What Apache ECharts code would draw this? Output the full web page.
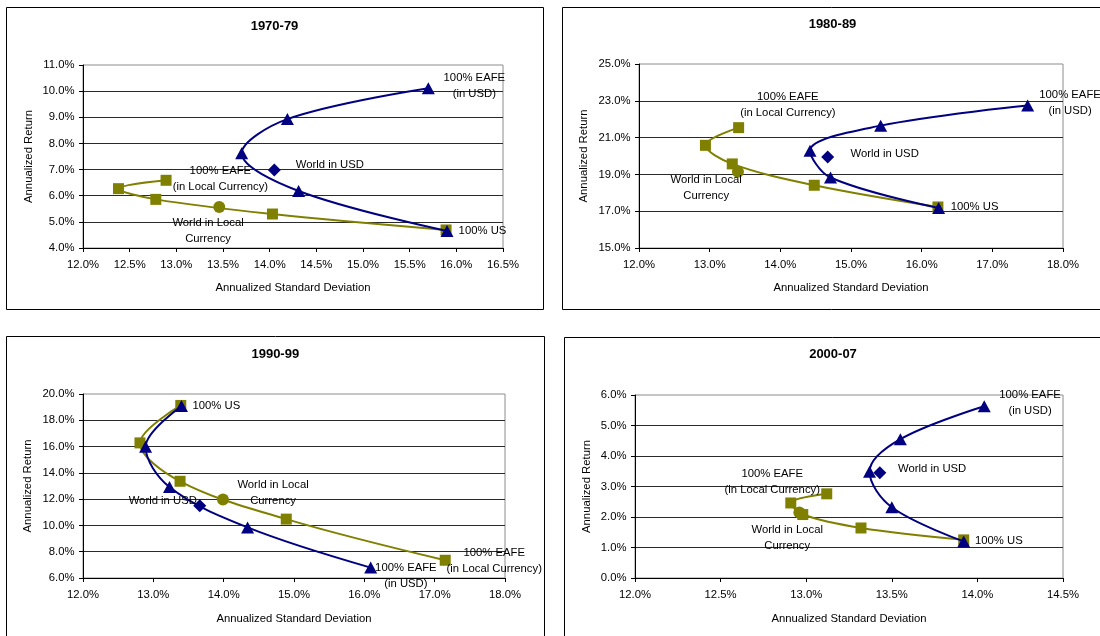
<!DOCTYPE html>
<html>
<head>
<meta charset="utf-8">
<script src="https://cdn.jsdelivr.net/npm/echarts@6/dist/echarts.min.js"></script>
<style>
  html, body { margin: 0; padding: 0; background: #fff; }
  #chart { width: 1100px; height: 636px; }
</style>
</head>
<body>
<div id="chart"></div>
<script>
// Efficient frontiers of US / EAFE mixes by decade:
// annualized standard deviation (x, %) against annualized return (y, %).
// Each frontier runs from 100% EAFE (first point) to 100% US (last point).

// 1970-79
const eafeUsd7079   = [[15.70, 10.11], [14.19, 8.93], [13.70, 7.62], [14.31, 6.18], [15.90, 4.65]];
const eafeLocal7079 = [[12.89, 6.59], [12.38, 6.27], [12.78, 5.86], [14.03, 5.30], [15.89, 4.69]];
const worldUsd7079   = [14.05, 6.98];
const worldLocal7079 = [13.46, 5.57];

// 1980-89
const eafeUsd8089   = [[17.50, 22.74], [15.42, 21.65], [14.42, 20.29], [14.71, 18.83], [16.24, 17.17]];
const eafeLocal8089 = [[13.41, 21.54], [12.94, 20.58], [13.32, 19.57], [14.48, 18.41], [16.23, 17.23]];
const worldUsd8089   = [14.67, 19.95];
const worldLocal8089 = [13.40, 19.15];

// 1990-99
const eafeUsd9099   = [[16.09, 6.79], [14.34, 9.85], [13.23, 12.92], [12.89, 15.98], [13.40, 19.08]];
const eafeLocal9099 = [[17.15, 7.35], [14.89, 10.48], [13.38, 13.36], [12.81, 16.28], [13.39, 19.13]];
const worldUsd9099   = [13.66, 11.50];
const worldLocal9099 = [13.99, 11.98];

// 2000-07
const eafeUsd0007   = [[14.04, 5.63], [13.55, 4.55], [13.37, 3.48], [13.50, 2.32], [13.92, 1.20]];
const eafeLocal0007 = [[13.12, 2.76], [12.91, 2.46], [12.98, 2.08], [13.32, 1.64], [13.92, 1.25]];
const worldUsd0007   = [13.43, 3.45];
const worldLocal0007 = [12.96, 2.15];

const periods = ['1970-79', '1980-89', '1990-99', '2000-07'];
// [min, max, step] for each panel
const xRanges = [[12, 16.5, 0.5], [12, 18, 1], [12, 18, 1], [12, 14.5, 0.5]];
const yRanges = [[4, 11, 1], [15, 25, 2], [6, 20, 2], [0, 6, 1]];
const xAxisTitle = 'Annualized Standard Deviation';
const yAxisTitle = 'Annualized Return';
const noteText = {
  eafeUsd: '100% EAFE\n(in USD)',
  us: '100% US',
  worldUsd: 'World in USD',
  eafeLocal: '100% EAFE\n(in Local Currency)',
  worldLocal: 'World in Local\nCurrency'
};

const frontiers = [
  { usd: eafeUsd7079, local: eafeLocal7079, wUsd: worldUsd7079, wLocal: worldLocal7079 },
  { usd: eafeUsd8089, local: eafeLocal8089, wUsd: worldUsd8089, wLocal: worldLocal8089 },
  { usd: eafeUsd9099, local: eafeLocal9099, wUsd: worldUsd9099, wLocal: worldLocal9099 },
  { usd: eafeUsd0007, local: eafeLocal0007, wUsd: worldUsd0007, wLocal: worldLocal0007 }
];

// Panel placement and annotation offsets (pixels, relative to the annotated point)
const layout = [
  { grid: { left: 83, top: 65, width: 420, height: 183 }, box: [6.5, 7.5, 537, 302], title: [274.5, 26], yGap: 48.5, xGap: 34,
    notes: { eafeUsd: [46, -2, 'center'], us: [11.6, 0, 'left'], worldUsd: [21.4, -5, 'left'],
             eafeLocal: [54.3, -1, 'center'], worldLocal: [-11.2, 24.1, 'center'] } },
  { grid: { left: 639, top: 64, width: 424, height: 184 }, box: [562.5, 7.5, 560, 302], title: [832.5, 24.5], yGap: 50, xGap: 34,
    notes: { eafeUsd: [42.4, -3.1, 'center'], us: [12.1, -0.8, 'left'], worldUsd: [22.9, -2.6, 'left'],
             eafeLocal: [49.2, -22.4, 'center'], worldLocal: [-31.8, 16.7, 'center'] } },
  { grid: { left: 83, top: 394, width: 422, height: 184 }, box: [6.5, 336.5, 538, 320], title: [275.3, 354], yGap: 50, xGap: 35,
    notes: { eafeUsd: [35.2, 7.8, 'center'], us: [11, 0, 'left'], worldUsd: [-37, -4.6, 'center'],
             eafeLocal: [49, 0.2, 'center'], worldLocal: [50.1, -6.6, 'center'] } },
  { grid: { left: 635, top: 395, width: 428, height: 183 }, box: [564.5, 337.5, 560, 320], title: [833, 354.5], yGap: 43, xGap: 35,
    notes: { eafeUsd: [45.8, -3.3, 'center'], us: [11.3, -0.7, 'left'], worldUsd: [18.2, -3.8, 'left'],
             eafeLocal: [-54.5, -11.8, 'center'], worldLocal: [-12.1, 25.6, 'center'] } }
];

const FONT = '"Liberation Sans", Arial, sans-serif';
const NAVY = '#000080';
const OLIVE = '#808000';
const TXT = 11.3;

function note(key, cfg) {
  const o = cfg.notes[key];
  return {
    show: true, position: 'inside', offset: [o[0], o[1]], align: o[2], verticalAlign: 'middle',
    formatter: noteText[key], color: '#000', fontFamily: FONT, fontSize: TXT, lineHeight: 16, opacity: 1
  };
}

const pct = v => v.toFixed(1) + '%';
const grids = [], xAxes = [], yAxes = [], series = [], graphics = [];

frontiers.forEach((f, i) => {
  const cfg = layout[i];
  grids.push(Object.assign({ show: true, borderColor: '#8c8c8c', borderWidth: 1, backgroundColor: '#fff', containLabel: false }, cfg.grid));
  xAxes.push({
    type: 'value', gridIndex: i, min: xRanges[i][0], max: xRanges[i][1], interval: xRanges[i][2],
    axisLine: { show: true, onZero: false, lineStyle: { color: '#000', width: 1 } },
    axisTick: { show: true, length: 4, lineStyle: { color: '#000' } },
    axisLabel: { formatter: pct, color: '#000', fontFamily: FONT, fontSize: TXT, margin: 11 },
    splitLine: { show: false },
    name: xAxisTitle, nameLocation: 'middle', nameGap: cfg.xGap,
    nameTextStyle: { color: '#000', fontFamily: FONT, fontSize: TXT }
  });
  yAxes.push({
    type: 'value', gridIndex: i, min: yRanges[i][0], max: yRanges[i][1], interval: yRanges[i][2],
    axisLine: { show: true, onZero: false, lineStyle: { color: '#000', width: 1 } },
    axisTick: { show: true, length: 4, lineStyle: { color: '#000' } },
    axisLabel: { formatter: pct, color: '#000', fontFamily: FONT, fontSize: TXT, margin: 8.5 },
    splitLine: { show: true, showMinLine: false, showMaxLine: false, lineStyle: { color: '#2a2a2a', width: 1 } },
    name: yAxisTitle, nameLocation: 'middle', nameGap: cfg.yGap,
    nameTextStyle: { color: '#000', fontFamily: FONT, fontSize: TXT }
  });

  // Frontier with EAFE measured in local currency
  series.push({
    type: 'line', xAxisIndex: i, yAxisIndex: i, smooth: 0.35,
    symbol: 'rect', symbolSize: 11, showSymbol: true,
    itemStyle: { color: OLIVE, opacity: 1 }, lineStyle: { color: OLIVE, width: 2 },
    data: f.local.map((p, k) => k === 0 ? { value: p, label: note('eafeLocal', cfg) } : { value: p }),
    emphasis: { disabled: true }, z: 2
  });
  // Frontier with EAFE measured in USD
  const last = f.usd.length - 1;
  series.push({
    type: 'line', xAxisIndex: i, yAxisIndex: i, smooth: 0.35,
    symbol: 'triangle', symbolSize: [13, 12], showSymbol: true,
    itemStyle: { color: NAVY, opacity: 1 }, lineStyle: { color: NAVY, width: 2 },
    data: f.usd.map((p, k) => k === 0 ? { value: p, label: note('eafeUsd', cfg) }
                          : k === last ? { value: p, label: note('us', cfg) } : { value: p }),
    emphasis: { disabled: true }, z: 3
  });
  // World portfolios
  series.push({
    type: 'scatter', xAxisIndex: i, yAxisIndex: i, symbol: 'diamond', symbolSize: 13,
    itemStyle: { color: NAVY, opacity: 1 }, data: [{ value: f.wUsd, label: note('worldUsd', cfg) }],
    emphasis: { disabled: true }, z: 4
  });
  series.push({
    type: 'scatter', xAxisIndex: i, yAxisIndex: i, symbol: 'circle', symbolSize: 12,
    itemStyle: { color: OLIVE, opacity: 1 }, data: [{ value: f.wLocal, label: note('worldLocal', cfg) }],
    emphasis: { disabled: true }, z: 4
  });

  // Panel frame and title
  graphics.push({
    type: 'rect', z: 0, silent: true,
    shape: { x: cfg.box[0], y: cfg.box[1], width: cfg.box[2], height: cfg.box[3] },
    style: { fill: 'none', stroke: '#000', lineWidth: 1 }
  });
  graphics.push({
    type: 'text', z: 10, silent: true, x: cfg.title[0], y: cfg.title[1],
    style: { text: periods[i], font: 'bold 13px ' + FONT, fill: '#000',
             align: 'center', verticalAlign: 'middle', textAlign: 'center', textVerticalAlign: 'middle' }
  });
});

const chart = echarts.init(document.getElementById('chart'), null, { renderer: 'canvas' });
chart.setOption({
  backgroundColor: '#fff',
  animation: false,
  grid: grids,
  xAxis: xAxes,
  yAxis: yAxes,
  series: series,
  graphic: graphics
});
</script>
</body>
</html>
